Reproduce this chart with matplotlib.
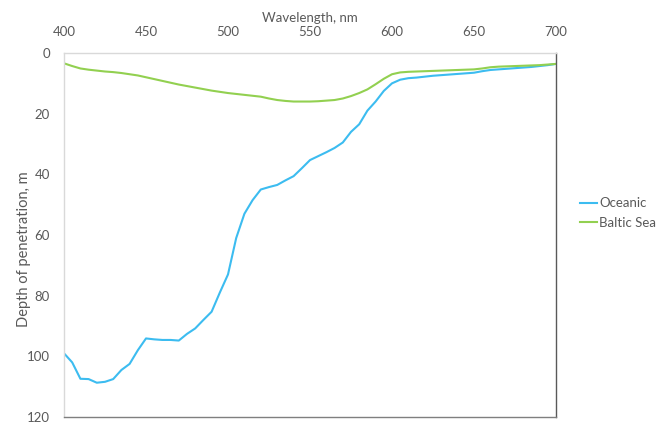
import matplotlib
matplotlib.use("Agg")
import matplotlib.pyplot as plt
import numpy as np

wavelength = list(range(400, 701, 5))
oceanic = [99, 102, 107.4, 107.5, 108.7, 108.4, 107.5, 104.5, 102.5, 98,
           94.1, 94.4, 94.6, 94.6, 94.8, 92.6, 90.8, 88, 85.3, 79,
           73, 61, 53, 48.5, 45, 44.2, 43.5, 42, 40.6, 38,
           35.3, 34, 32.7, 31.3, 29.5, 26, 23.5, 19, 16, 12.5,
           10, 8.8, 8.3, 8.1, 7.8, 7.5, 7.3, 7.1, 6.9, 6.7,
           6.5, 6.0, 5.6, 5.4, 5.2, 5.0, 4.8, 4.6, 4.3, 4.0, 3.6]
baltic = [3.4, 4.3, 5.1, 5.5, 5.8, 6.1, 6.3, 6.6, 7.0, 7.4,
          8.0, 8.6, 9.2, 9.8, 10.4, 10.9, 11.4, 11.9, 12.4, 12.8,
          13.2, 13.5, 13.8, 14.1, 14.4, 15.0, 15.5, 15.8, 16.0, 16.0,
          16.0, 15.9, 15.7, 15.5, 15.0, 14.2, 13.2, 12.0, 10.3, 8.5,
          7.0, 6.4, 6.2, 6.1, 6.0, 5.9, 5.8, 5.7, 5.6, 5.5,
          5.4, 5.1, 4.7, 4.5, 4.4, 4.3, 4.2, 4.1, 4.0, 3.8, 3.6]
x_ticks = [400, 450, 500, 550, 600, 650, 700]
y_ticks = [0, 20, 40, 60, 80, 100, 120]

plt.rcParams['font.family'] = ['Lato', 'DejaVu Sans']
txt = '#595959'

fig = plt.figure(figsize=(6.59, 4.24), dpi=100)
ax = fig.add_axes([64/659, 1-417/424, (556-64)/659, (417-53)/424])

ax.plot(wavelength, oceanic, color='#3cbcf0', lw=1.5, label='Oceanic')
ax.plot(wavelength, baltic, color='#92d050', lw=1.5, label='Baltic Sea')

ax.set_xlim(400, 700)
ax.set_ylim(120, 0)
ax.set_xticks(x_ticks)
ax.set_yticks(y_ticks)
ax.xaxis.tick_top()
ax.xaxis.set_label_position('top')
ax.tick_params(length=0, labelsize=9.5, colors=txt)
ax.tick_params(axis='x', pad=11)
ax.tick_params(axis='y', pad=10)
ax.set_xlabel('Wavelength, nm', fontsize=9.5, color=txt, labelpad=3)
ax.set_ylabel('Depth of penetration, m', fontsize=10.5, color=txt, labelpad=4)
ax.yaxis.set_label_coords(-0.068, 0.462)

ax.spines['top'].set_color('#d9d9d9')
ax.spines['left'].set_color('#d9d9d9')
ax.spines['bottom'].set_color('#7f7f7f')
ax.spines['right'].set_color('#595959')
for s in ax.spines.values():
    s.set_linewidth(1.0)

fig.legend(loc='center left', bbox_to_anchor=(580/659, 1-213/424), frameon=False,
           fontsize=9.5, handlelength=1.3, handletextpad=0.15, labelspacing=0.55,
           labelcolor=txt, borderaxespad=0, borderpad=0)

fig.savefig('out.png', dpi=100, facecolor='white')
